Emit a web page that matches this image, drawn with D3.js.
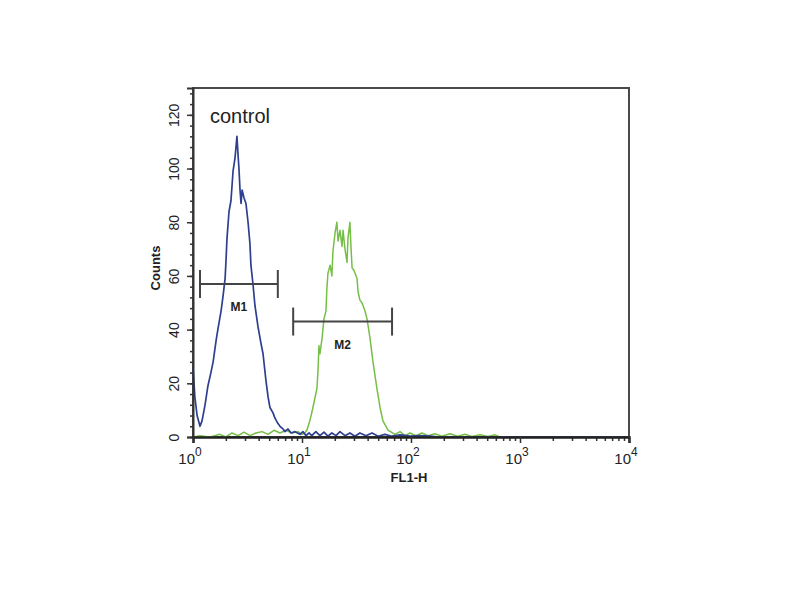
<!DOCTYPE html>
<html>
<head>
<meta charset="utf-8">
<script src="https://cdn.jsdelivr.net/npm/d3@7/dist/d3.min.js"></script>
<style>
  body { margin: 0; background: #fff; }
  svg { display: block; }
  text { font-family: "Liberation Sans", Arial, sans-serif; fill: #222; }
</style>
</head>
<body>
<svg id="chart" width="800" height="600"></svg>
<script>
// ---- data ----
const xDecades = [1, 10, 100, 1000, 10000];
const xDecadeExponents = ["0", "1", "2", "3", "4"];
const yMajorTicks = [0, 20, 40, 60, 80, 100, 120];
const yDomainMax = 130;

// control (blue) histogram: FL1-H values and counts
const blueFL1 = [1.00, 1.04, 1.09, 1.16, 1.21, 1.29, 1.37, 1.46, 1.53, 1.63, 1.69, 1.81, 1.88, 1.97, 2.01, 2.05,
  2.14, 2.23, 2.33, 2.43, 2.48, 2.53, 2.59, 2.64, 2.70, 2.76, 2.82, 2.94, 3.06, 3.20, 3.33, 3.40, 3.55, 3.70,
  3.95, 4.20, 4.39, 4.67, 4.88, 5.08, 5.42, 5.65, 6.02, 6.28, 6.69, 6.98, 7.44, 7.93, 8.63, 9.59,
  10.2, 10.9, 11.6, 12.3, 13.4, 14.6, 15.9, 17.3, 18.8, 20.5, 22.3, 24.8, 27.5, 30.6, 34.0, 38.6, 43.9,
  49.9, 57.7, 66.7, 79.3, 98, 120, 150, 184, 10000];
const blueCounts = [26, 15, 8, 4, 6, 12, 19, 24, 28, 36, 40, 47, 52, 59, 66, 74,
  84, 88, 99, 104, 108, 112, 105, 100, 92, 87, 92, 89, 87, 80, 72, 64, 57, 49,
  41, 35, 31, 21, 15, 11, 9, 7, 5, 4, 3, 2, 3, 1.5, 2, 1,
  2, 0.5, 1.5, 0.5, 2, 0.5, 1.8, 0.3, 1.5, 0.5, 2, 0.5, 1.5, 0.3, 1.5, 0.5, 1.5,
  0.3, 1, 0.3, 0.8, 0.3, 0.5, 0.3, 0, 0];

// stained (green) histogram
const greenFL1 = [1.00, 1.16, 1.43, 1.77, 2.00, 2.28, 2.59, 2.94, 3.33, 3.78, 4.30, 4.88, 5.54, 6.28, 7.13, 8.10,
  9.20, 10.0, 10.65, 11.1, 11.8, 12.6, 13.7, 14.0, 14.3, 14.6, 15.3, 15.9, 16.6, 16.9, 17.3, 18.1, 18.8, 19.2,
  20.1, 20.9, 21.4, 22.3, 23.3, 23.8, 24.8, 25.9, 26.4, 27.5, 28.2, 28.8, 30.0, 32.0, 32.7, 34.0, 35.5, 37.8,
  39.5, 42.0, 44.8, 48.7, 52.0, 55.3, 61.5, 71.3, 79.3, 88, 98, 111, 126, 143, 166, 192, 228, 268, 312, 362,
  430, 508, 590, 656, 10000];
const greenCounts = [0, 0.5, 0, 1, 0, 1.5, 0.5, 1.8, 0.5, 1.5, 2, 1, 2.5, 1.5, 2.5, 1.5,
  2, 1, 1.5, 2.6, 6, 11, 18, 24, 34, 31, 37, 44, 47, 55, 61, 64, 60, 69,
  76, 80, 73, 77, 71, 77, 70, 65, 74, 80, 70, 63, 62, 59, 54, 51, 50, 47,
  44, 37, 28, 18, 11, 6, 2.6, 1, 2, 0.5, 1.5, 0.5, 1.5, 0.5, 1.2, 0.3, 1.2, 0.3, 1, 0.2,
  0.8, 0.2, 0.8, 0, 0];

// gate markers
const markerNames = ["M1", "M2"];
const markerStart = [1.16, 8.3];
const markerEnd = [6.0, 67];
const markerLevel = [57, 43];

const titleText = "control";
const xLabel = "FL1-H";
const yLabel = "Counts";

// ---- drawing ----
const svg = d3.select("#chart");
const L = 193, R = 629, T = 88, B = 437;

const x = d3.scaleLog().domain([xDecades[0], xDecades[xDecades.length - 1]]).range([L, R]);
const y = d3.scaleLinear().domain([0, yDomainMax]).range([B, T]);

// frame
svg.append("rect").attr("x", L).attr("y", T).attr("width", R - L).attr("height", B - T)
  .attr("fill", "none").attr("stroke", "#4a4a4a").attr("stroke-width", 2);

// histograms
const line = d3.line().x(d => x(d[0])).y(d => y(d[1]));
const greenData = greenFL1.map((v, i) => [v, greenCounts[i]]);
const blueData = blueFL1.map((v, i) => [v, blueCounts[i]]);

svg.append("path").datum(greenData).attr("d", line)
  .attr("fill", "none").attr("stroke", "#76bf47").attr("stroke-width", 1.5).attr("stroke-linejoin", "round");
svg.append("path").datum(blueData).attr("d", line)
  .attr("fill", "none").attr("stroke", "#2e3f8f").attr("stroke-width", 1.7).attr("stroke-linejoin", "round");

// y axis: minor ticks every 4, major every 20
const yMinor = d3.range(0, yDomainMax, 4);
const yAxisMinor = d3.axisLeft(y).tickValues(yMinor).tickSize(3).tickFormat("");
const gyMinor = svg.append("g").attr("transform", `translate(${L},0)`).call(yAxisMinor);
gyMinor.select(".domain").remove();
gyMinor.selectAll("line").attr("stroke", "#333").attr("stroke-width", 1.5);

const yAxis = d3.axisLeft(y).tickValues(yMajorTicks).tickSize(6).tickFormat(d3.format("d"));
const gy = svg.append("g").attr("transform", `translate(${L},0)`).call(yAxis);
gy.select(".domain").attr("stroke", "#333").attr("stroke-width", 2);
gy.selectAll("line").attr("stroke", "#333").attr("stroke-width", 1.5);
gy.selectAll("text")
  .attr("x", 0).attr("dy", 0)
  .attr("transform", "translate(-14,0) rotate(-90)")
  .attr("text-anchor", "middle")
  .style("font-size", "14px")
  .style("font-family", "'Liberation Sans', Arial, sans-serif")
  .attr("fill", "#333");

// x axis: log ticks
const xMinor = [];
for (let k = 0; k < xDecades.length - 1; k++) {
  for (let m = 2; m <= 9; m++) xMinor.push(xDecades[k] * m);
}
const gxMinor = svg.append("g").attr("transform", `translate(0,${B})`)
  .call(d3.axisBottom(x).tickValues(xMinor).tickSize(4).tickFormat(""));
gxMinor.select(".domain").remove();
gxMinor.selectAll("line").attr("stroke", "#333").attr("stroke-width", 1.5);

const gx = svg.append("g").attr("transform", `translate(0,${B})`)
  .call(d3.axisBottom(x).tickValues(xDecades).tickSize(6).tickFormat(""));
gx.select(".domain").attr("stroke", "#222").attr("stroke-width", 2.5);
gx.selectAll("line").attr("stroke", "#333").attr("stroke-width", 1.5);

// decade labels 10^k
xDecades.forEach((v, i) => {
  const t = svg.append("text")
    .attr("x", x(v) - 3).attr("y", 464)
    .attr("text-anchor", "middle")
    .style("font-size", "15px").attr("fill", "#333");
  t.append("tspan").text("10");
  t.append("tspan").attr("dy", -8).style("font-size", "12px").text(xDecadeExponents[i]);
});

// axis titles
svg.append("text").attr("x", 409).attr("y", 482).attr("text-anchor", "middle")
  .style("font-size", "13px").style("font-weight", "bold").attr("fill", "#333").text(xLabel);
svg.append("text").attr("transform", `translate(160,268) rotate(-90)`).attr("text-anchor", "middle")
  .style("font-size", "13px").style("font-weight", "bold").attr("fill", "#333").text(yLabel);

// title
svg.append("text").attr("x", 210).attr("y", 123).style("font-size", "20px").attr("fill", "#222").text(titleText);

// markers
markerNames.forEach((name, i) => {
  const x0 = x(markerStart[i]), x1 = x(markerEnd[i]), yy = y(markerLevel[i]);
  const g = svg.append("g").attr("stroke", "#444").attr("stroke-width", 2);
  g.append("line").attr("x1", x0).attr("x2", x1).attr("y1", yy).attr("y2", yy);
  g.append("line").attr("x1", x0).attr("x2", x0).attr("y1", yy - 14).attr("y2", yy + 14);
  g.append("line").attr("x1", x1).attr("x2", x1).attr("y1", yy - 14).attr("y2", yy + 14);
  svg.append("text").attr("x", (x0 + x1) / 2).attr("y", yy + 27).attr("text-anchor", "middle")
    .style("font-size", "12px").style("font-weight", "bold").attr("fill", "#333").text(name);
});
</script>
</body>
</html>
